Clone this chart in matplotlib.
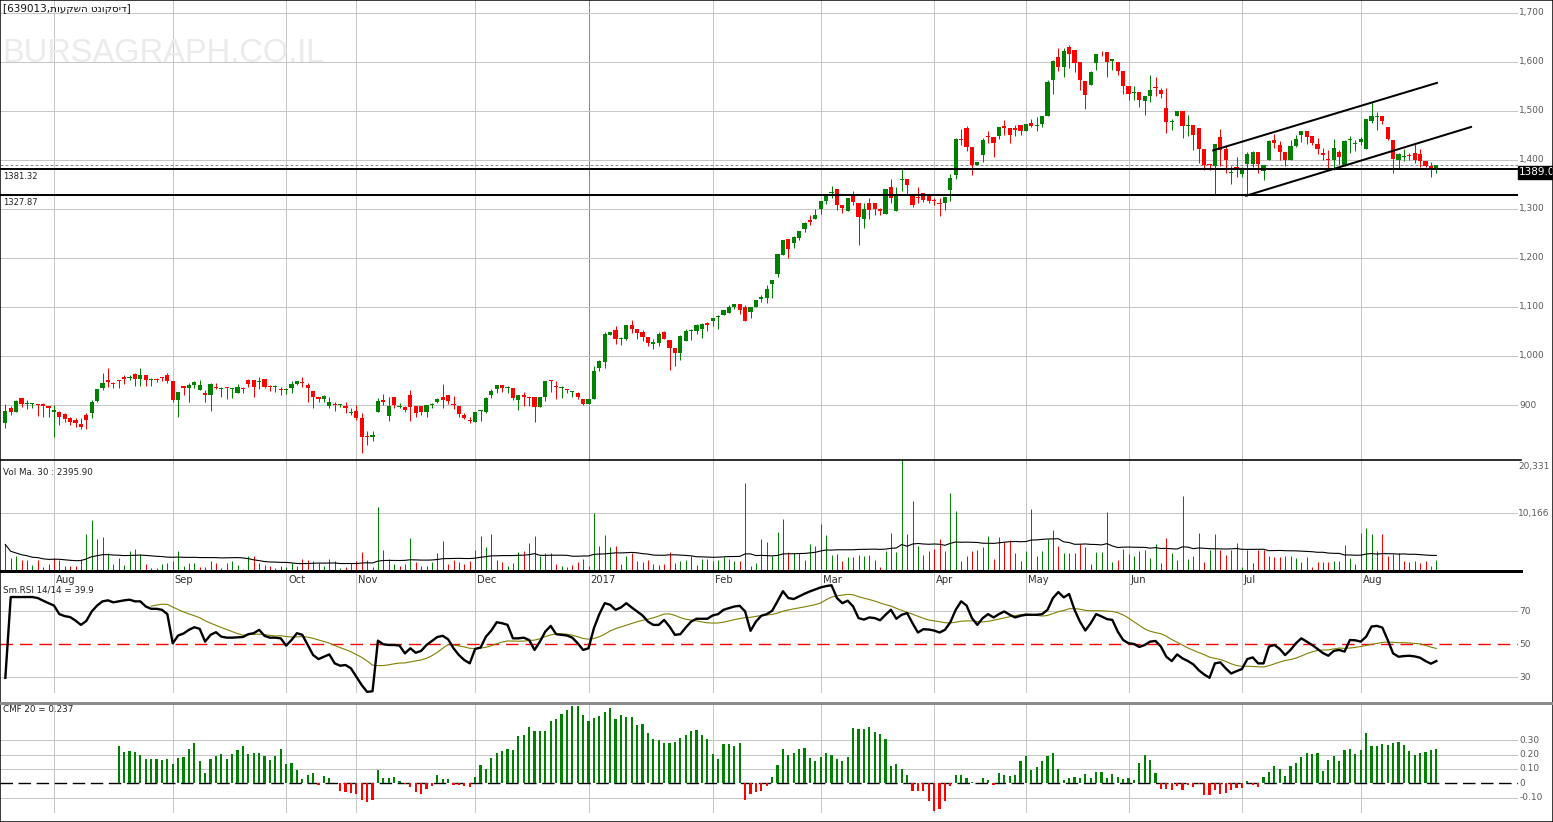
import matplotlib
matplotlib.use('Agg')
import matplotlib.pyplot as plt
import numpy as np
import pandas as pd
from matplotlib.lines import Line2D
from matplotlib.patches import Rectangle

# ---------------- data ----------------
title_code = '639013'
title_name = 'דיסקונט השקעות'

opens = [864,893,886,914,902,902,903,903,897,886, 885,881,873,869,862,880,883,909,934,951,
         944,951,958,955,963,954,961,952,953,957, 961,949,910,939,934,941,931,925,920,937,
         933,936,934,925,935,950,952,947,953,938, 938,933,930,934,943,946,941,929,917,912,
         898,902,899,898,885,888,873,837,834,886, 911,878,916,896,896,920,898,898,886,900,
         907,917,920,901,897,880,869,866,889,885, 920,932,941,935,935,910,920,916,916,895,
         917,951,938,936,932,927,924,913,903,913, 975,988,1043,1053,1034,1035,1063,1055,1048,1038,
         1025,1027,1048,1033,1017,1007,1031,1050,1051,1055, 1067,1071,1081,1084,1087,1099,1107,1099,1090,1099,
         1116,1119,1147,1167,1207,1238,1230,1241,1260,1278, 1280,1300,1316,1333,1341,1308,1296,1327,1312,1280,
         1312,1312,1300,1290,1345,1296,1359,1361,1327,1324, 1332,1327,1318,1312,1312,1339,1370,1443,1466,1427,
         1390,1410,1448,1447,1449,1469,1466,1465,1471,1460, 1475,1469,1473,1490,1563,1611,1590,1631,1624,1599,
         1561,1553,1597,1621,1620,1601,1599,1582,1550,1537, 1539,1521,1531,1548,1543,1507,1478,1490,1499,1469,
         1471,1465,1422,1392,1388,1446,1422,1373,1386,1371, 1392,1392,1417,1378,1401,1441,1431,1416,1401,1429,
         1452,1459,1449,1432,1415,1402,1400,1416,1389,1442, 1433,1437,1422,1480,1489,1490,1468,1441,1401,1406,
         1409,1414,1412,1398,1388,1384]
highs = [903,897,910,914,910,904,903,905,897,900, 888,883,875,873,873,883,910,933,965,975,
         946,951,961,961,965,975,961,956,955,958, 965,949,927,939,944,948,950,931,944,944,
         937,937,935,942,937,954,952,958,953,941, 941,937,934,948,948,958,944,929,917,920,
         917,907,903,907,893,900,883,846,847,915, 922,917,916,905,897,931,898,898,900,905,
         915,943,920,918,897,883,876,885,890,916, 932,941,941,939,935,920,927,916,916,916,
         949,952,949,939,932,929,927,913,913,980, 992,1048,1048,1061,1039,1063,1073,1055,1053,1038,
         1034,1048,1051,1033,1017,1043,1056,1056,1065,1067, 1070,1078,1084,1094,1104,1107,1107,1104,1101,1114,
         1124,1145,1155,1208,1237,1238,1245,1255,1274,1288, 1300,1316,1327,1346,1341,1308,1323,1337,1312,1312,
         1322,1312,1303,1341,1362,1344,1381,1361,1327,1344, 1332,1327,1323,1323,1324,1371,1444,1463,1469,1427,
         1396,1444,1459,1447,1467,1482,1466,1471,1471,1473, 1484,1487,1490,1563,1604,1628,1628,1635,1624,1599,
         1561,1582,1616,1622,1620,1607,1599,1582,1550,1552, 1539,1531,1573,1569,1546,1546,1484,1499,1499,1492,
         1471,1465,1422,1392,1432,1463,1431,1388,1407,1386, 1417,1418,1417,1389,1441,1454,1439,1416,1441,1451,
         1459,1459,1449,1444,1424,1420,1443,1420,1441,1449, 1441,1446,1484,1518,1497,1490,1468,1441,1414,1423,
         1414,1434,1422,1398,1395,1389]
lows = [854,880,886,895,891,893,878,876,876,835, 859,865,860,856,852,852,873,907,931,937,
        934,934,943,951,939,939,939,939,946,948, 945,907,876,920,907,934,931,907,888,932,
        917,912,914,924,925,936,917,932,934,929, 927,920,922,925,941,937,907,893,907,907,
        893,888,895,883,880,869,803,818,827,886, 900,868,893,893,886,868,876,880,876,893,
        905,893,902,891,876,871,863,866,868,883, 914,925,927,925,910,890,897,897,866,895,
        909,927,912,914,924,916,912,900,903,913, 970,975,1043,1024,1022,1033,1046,1035,1031,1021,
        1014,1021,1035,971,980,992,1031,1033,1044,1037, 1051,1061,1055,1084,1087,1095,1085,1072,1078,1099,
        1111,1109,1119,1162,1207,1201,1221,1237,1254,1267, 1280,1290,1310,1322,1298,1292,1296,1308,1227,1262,
        1280,1288,1288,1290,1312,1296,1337,1330,1305,1312, 1315,1312,1308,1286,1298,1317,1361,1431,1419,1369,
        1389,1395,1434,1407,1443,1451,1434,1448,1452,1460, 1468,1459,1468,1490,1535,1582,1570,1588,1580,1543,
        1504,1553,1584,1612,1569,1584,1573,1535,1522,1522, 1509,1492,1519,1531,1526,1456,1461,1490,1444,1448,
        1420,1393,1380,1380,1330,1388,1373,1350,1366,1366, 1327,1386,1373,1359,1400,1424,1400,1388,1401,1426,
        1437,1433,1431,1412,1400,1379,1379,1390,1388,1414, 1418,1431,1422,1475,1461,1473,1441,1373,1381,1397,
        1400,1393,1386,1386,1366,1374]
closes = [888,886,908,903,904,904,901,897,893,890, 876,872,866,864,856,869,907,932,944,946,
          943,950,954,956,954,961,952,953,952,956, 949,910,927,934,941,946,941,920,942,934,
          935,934,935,936,934,942,937,948,937,936, 939,932,933,942,948,945,934,917,912,918,
          907,901,902,893,886,873,835,834,839,908, 907,898,899,897,889,895,883,886,900,903,
          912,910,909,900,881,874,868,885,890,914, 929,941,935,936,914,920,916,915,895,916,
          949,950,936,937,931,928,917,903,913,969, 990,1045,1048,1035,1037,1063,1055,1046,1039,1027,
          1029,1045,1035,1017,1007,1041,1051,1053,1063,1065, 1064,1078,1082,1094,1099,1107,1094,1072,1099,1114,
          1121,1137,1155,1208,1237,1219,1242,1255,1272,1274, 1288,1316,1327,1334,1308,1303,1323,1315,1284,1301,
          1297,1301,1296,1341,1323,1327,1360,1348,1308,1323, 1318,1317,1316,1311,1324,1363,1443,1442,1427,1390,
          1396,1441,1447,1435,1467,1466,1452,1461,1460,1473, 1470,1471,1490,1560,1602,1590,1622,1616,1597,1563,
          1533,1580,1616,1620,1599,1606,1582,1550,1535,1538, 1522,1531,1543,1547,1534,1477,1479,1499,1469,1470,
          1451,1422,1390,1391,1432,1420,1400,1376,1383,1383, 1412,1417,1391,1389,1439,1435,1416,1400,1429,1443,
          1459,1446,1434,1422,1411,1401,1424,1407,1439,1443, 1434,1443,1484,1490,1490,1480,1443,1403,1412,1407,
          1408,1400,1398,1388,1383,1389]
volumes = [4575,2135,2440,1830,1830,915,1830,488,1100,2200, 1830,730,730,730,1950,6400,8970,5490,5980,3050,
           1100,2135,915,3480,3780,2930,1100,305,305,1100, 1340,1525,3355,730,1340,1340,488,488,1650,1340,
           305,1340,1650,915,183,2440,2560,1340,915,730, 427,730,488,1220,730,2013,1830,1650,1220,730,
           2013,1650,427,610,1220,1525,3170,1830,610,11285, 3540,2013,1100,790,1100,5670,1400,730,730,1400,
           3050,5120,1100,1830,1400,1100,1650,3660,6100,4090, 6400,1830,1400,730,1220,3230,3480,4760,6040,2440,
           3050,2990,1100,730,490,915,1400,2013,730,10250, 4390,6220,4090,4270,1100,2440,3050,1650,1400,1830,
           1100,915,1100,3230,1340,1650,1830,2560,915,2013, 2013,1650,1830,2260,2013,1525,1650,15555,730,1340,
           5490,5000,2440,6830,9150,3230,3050,3050,1830,4575, 4390,8235,6220,2745,2930,1650,2320,2260,2745,2560,
           2745,1830,610,3480,6590,3170,20331,6400,12440,4390, 2745,3480,3840,5490,3480,13725,10490,1650,2440,3480,
           3660,4090,6100,2013,5920,5000,5310,3050,1650,3480, 10860,2560,3355,5610,7140,4390,2990,2990,2990,4700,
           4210,1100,3230,3230,10370,1400,1830,3840,2870,2560, 3355,3540,2135,4575,1340,5800,3050,1830,13240,1950,
           2440,6590,1400,3660,6400,3660,2745,3660,4760,600, 3660,1220,3660,3660,2440,2300,2300,2440,2440,2135,
           1500,2260,600,1500,1500,1500,1650,1650,4450,2135, 1040,6710,7500,6400,3355,6400,2440,2930,3050,1650,
           1500,1650,1340,1650,730,1830]
rsi = [29.8,78.5,78.5,78.5,78.5,78.5,77.9,76.3,74.8,73.4, 68.2,67.0,66.4,64.3,61.7,64.1,69.8,73.4,75.9,76.5,
       75.3,75.9,76.5,76.9,75.9,75.9,72.8,71.4,71.4,70.8, 68.2,50.6,55.3,56.5,58.7,60.3,59.3,51.6,55.7,57.3,
       54.6,54.0,54.0,54.2,54.4,56.1,56.7,58.7,55.1,54.0, 54.0,53.6,49.2,52.6,56.7,55.7,49.6,43.5,41.1,42.5,
       43.9,38.5,37.1,37.5,35.5,30.4,25.4,21.3,21.7,52.2, 50.0,49.6,49.6,49.2,44.5,47.6,44.9,46.0,49.6,52.0,
       54.4,55.1,53.0,47.6,43.5,40.5,38.5,47.2,48.0,54.6, 58.3,63.3,62.7,61.7,53.6,53.6,54.0,52.6,46.6,51.6,
       57.7,61.1,56.1,55.7,55.3,54.0,50.6,46.6,47.6,59.7, 68.2,74.8,73.8,70.8,72.2,74.8,72.2,69.8,67.4,63.7,
       61.7,61.7,64.7,60.7,55.7,56.1,60.1,63.7,65.4,65.4, 65.4,67.4,68.2,70.8,71.8,72.8,73.2,69.8,58.1,63.7,
       67.2,68.2,70.2,76.0,82.0,77.9,77.3,78.9,80.5,81.9, 83.1,84.3,85.1,85.6,77.9,74.8,76.3,72.8,65.8,64.9,
       66.2,65.8,64.5,67.8,70.8,65.4,67.8,68.8,62.7,57.1, 59.1,58.9,58.3,57.1,58.7,63.3,70.8,75.9,73.4,65.8,
       61.7,65.8,68.2,66.2,68.2,69.8,67.8,66.2,67.2,67.8, 67.8,67.8,68.2,70.8,77.9,81.5,78.3,80.3,70.8,63.7,
       58.3,62.7,68.2,66.8,65.2,64.7,57.7,52.6,50.6,50.2, 48.4,49.6,51.6,52.0,48.6,42.5,39.9,43.9,41.5,39.9,
       37.9,34.4,31.8,29.8,38.5,39.1,35.5,32.4,33.8,35.1, 41.1,42.1,38.5,38.5,48.6,49.6,47.2,43.5,46.6,50.6,
       53.6,51.6,49.6,47.2,44.7,43.1,46.0,46.6,45.6,52.6, 52.4,51.6,54.6,60.7,61.1,60.1,52.6,44.5,42.5,42.9,
       43.1,42.7,41.9,39.9,38.3,39.9]
cmf_start = 21
cmf = [0.257,0.218,0.223,0.218,0.195,0.172,0.172,0.168,0.161,0.168,
       0.133,0.179,0.184,0.237,0.283,0.154,0.074,0.172,0.189,0.202,
       0.168,0.202,0.234,0.257,0.207,0.211,0.211,0.189,0.161,0.191,
       0.241,0.133,0.143,0.092,0.028,0.057,0.074,-0.011,0.051,0.034,
       0.003,-0.057,-0.064,-0.069,-0.076,-0.120,-0.133,-0.115,0.092,0.039,
       0.034,0.041,0.016,-0.005,-0.023,-0.062,-0.074,-0.041,-0.016,0.057,
       0.028,0.028,-0.011,-0.011,-0.018,-0.023,0.046,0.131,0.097,0.177,
       0.211,0.223,0.237,0.234,0.333,0.338,0.395,0.363,0.368,0.368,
       0.432,0.448,0.483,0.510,0.536,0.540,0.476,0.437,0.455,0.471,
       0.499,0.526,0.448,0.476,0.464,0.460,0.407,0.414,0.352,0.306,
       0.299,0.283,0.283,0.287,0.315,0.338,0.368,0.372,0.338,0.306,
       0.202,0.168,0.271,0.276,0.257,0.283,-0.120,-0.076,-0.064,-0.057,
       -0.018,0.046,0.126,
       0.237,0.200,0.211,0.241,0.246,0.179,0.154,0.184,0.214,0.200,
       0.172,0.154,0.184,0.386,0.379,0.379,0.391,0.361,0.345,0.310,
       0.120,0.138,0.099,0.057,-0.057,-0.051,-0.051,-0.126,-0.195,-0.177,
       -0.122,-0.018,0.057,0.057,0.034,0.011,0.003,0.034,0.023,-0.011,
       0.069,0.057,0.053,0.057,0.154,0.189,0.092,0.115,0.154,0.189,
       0.211,0.103,0.023,0.039,0.046,0.034,0.064,0.034,0.080,0.080,
       0.034,0.062,0.046,0.030,0.034,0.023,0.143,0.195,0.161,0.074,
       -0.041,-0.041,-0.046,-0.018,-0.046,-0.011,-0.023,-0.003,-0.085,-0.080,
       -0.046,-0.076,-0.069,-0.046,-0.034,-0.034,0.016,-0.011,-0.023,0.046,
       0.080,0.120,0.103,0.053,0.120,0.145,0.184,0.211,0.207,0.211,
       0.085,0.161,0.189,0.154,0.234,0.241,0.202,0.230,0.349,0.257,
       0.257,0.276,0.269,0.283,0.287,0.264,0.223,0.200,0.211,0.218,
       0.230,0.237]
month_labels = ['Aug','Sep','Oct','Nov','Dec','2017','Feb','Mar','Apr','May','Jun','Jul','Aug']
month_pos = [9, 31, 52, 65, 87, 108, 131, 151, 172, 189, 208, 229, 251]
levels = [1381.32, 1327.87]
trend_upper = ([223.5, 265.3], [1419, 1558])
trend_lower = ([229.6, 271.6], [1326.5, 1468])
price_ticks = [900, 1000, 1100, 1200, 1300, 1400, 1500, 1600, 1700]
vol_ticks = [10166, 20331]
rsi_ticks = [30, 50, 70]
cmf_ticks = [-0.10, 0, 0.10, 0.20, 0.30]
vol_ma_label = 'Vol Ma. 30 : 2395.90'

n = len(closes)
assert len(opens) == n and len(highs) == n and len(lows) == n, (len(opens), len(highs), len(lows), n)
assert len(volumes) == n and len(rsi) == n, (len(volumes), len(rsi), n)
assert len(cmf) == n - cmf_start, (len(cmf), n - cmf_start)

# ---------------- figure ----------------
W, H = 1553, 822
fig = plt.figure(figsize=(W / 100, H / 100), dpi=100)
fig.patch.set_facecolor('white')
X0, DX, RIGHT = 5.33, 5.40, 1518   # pixel layout of the candle axis

def fx(p):
    return p / W

def fy(p):
    return 1 - p / H

def add_ax(top, bottom):
    ax = fig.add_axes([0, fy(bottom), fx(RIGHT), (bottom - top) / H])
    ax.set_xlim(-X0 / DX, (RIGHT - X0) / DX)
    ax.set_xticks([]); ax.set_yticks([])
    for s in ax.spines.values():
        s.set_visible(False)
    ax.patch.set_alpha(0)
    return ax

ax_p = add_ax(0, 460)
ax_v = add_ax(460, 571)
ax_r = add_ax(571, 703)
ax_c = add_ax(703, 821)

ax_p.set_ylim(787.76, 1726.5)
ax_v.set_ylim(-179, 19723)
ax_r.set_ylim(14.6, 94.2)
ax_c.set_ylim(-0.2631, 0.5604)

GRID = '#c6c6c6'
GREEN = '#008000'
RED = '#ff0000'
LBL = '#5a5a5a'
PX = 0.72  # one pixel in points
LEFT_TXT = 3 / RIGHT

x = np.arange(n)
o = np.array(opens, float); h = np.array(highs, float)
l = np.array(lows, float); c = np.array(closes, float)
cols = np.where(c >= o, GREEN, RED)
prev = np.r_[c[0], c[:-1]]
vcols = np.where(c >= prev, GREEN, RED)

# gridlines
for lab, m in zip(month_labels, month_pos):
    ax_p.axvline(m, color='#8a8a8a' if lab == '2017' else GRID, lw=PX, zorder=0)
    ax_v.axvline(m, color=GRID, lw=PX, zorder=0)
    ax_r.axvline(m, ymin=0.083, ymax=1, color=GRID, lw=PX, zorder=0)
    ax_c.axvline(m, ymin=0.076, ymax=1, color=GRID, lw=PX, zorder=0)
for v in price_ticks:
    ax_p.axhline(v, color=GRID, lw=PX, zorder=0)
ax_v.axhline(vol_ticks[0], color=GRID, lw=PX, zorder=0)
for v in rsi_ticks:
    if v != 50:
        ax_r.axhline(v, color=GRID, lw=PX, zorder=0)
for v in cmf_ticks:
    if v != 0:
        ax_c.axhline(v, color=GRID, lw=PX, zorder=0)

# watermark
ax_p.text(fx(2), fy(62), 'BURSAGRAPH.CO.IL', transform=fig.transFigure, fontsize=23.5,
          family='Liberation Sans', color='#ebebeb', va='baseline', ha='left', zorder=0.5)

# candles
ax_p.vlines(x, l, h, colors=cols, lw=1.0 * PX, zorder=2)
body = np.abs(c - o)
bh = np.maximum(body, 1.8)
bb = np.minimum(o, c) - (bh - body) / 2
ax_p.bar(x, bh, bottom=bb, width=0.8, color=cols, linewidth=0, zorder=3)

# support / resistance and channel
ty = ax_p.get_yaxis_transform()
for lev in levels:
    ax_p.axhline(lev, color='black', lw=2 * PX, zorder=4)
    ax_p.annotate(f'{lev:.2f}', xy=(LEFT_TXT, lev), xycoords=ty, xytext=(0, -2), textcoords='offset points',
                  fontsize=6, va='top', ha='left', color='#222222')
ax_p.axhline(c[-1], color='#8c8c8c', lw=1 * PX, dashes=(3, 2), zorder=1)
ax_p.plot(*trend_upper, color='black', lw=2 * PX, zorder=5, solid_capstyle='butt')
ax_p.plot(*trend_lower, color='black', lw=2 * PX, zorder=5, solid_capstyle='butt')

# right price labels
for v in price_ticks:
    ax_p.text(1.0008, v, f'{v:,}', transform=ty, fontsize=6.5, color=LBL, va='center', ha='left', clip_on=False)
ax_p.annotate(f'{c[-1]:.1f}', xy=(1.0008, c[-1]), xycoords=ty, xytext=(0, -1.5), textcoords='offset points',
              fontsize=7.5, color='white', va='top', ha='left', annotation_clip=False, zorder=10,
              bbox=dict(boxstyle='square,pad=0.12', fc='black', ec='black'))

# header (Hebrew part given in visual order, since matplotlib lays text out left to right)
fig.text(fx(3), fy(9), '[' + title_code + ',' + title_name[::-1] + ']', fontsize=7.5,
         family='DejaVu Sans', va='center', ha='left', color='#111111')

# volume
vol = np.array(volumes, float)
ax_v.vlines(x, 0, vol, colors=vcols, lw=1.0 * PX, zorder=2)
vma = pd.Series(vol).rolling(30, min_periods=1).mean()
ax_v.plot(x, vma, color='black', lw=0.8, zorder=3)
tv = ax_v.get_yaxis_transform()
ax_v.text(1.0, vol_ticks[0], f'{vol_ticks[0]:,}', transform=tv, fontsize=6.5, color=LBL, va='center', ha='left', clip_on=False)
ax_v.text(1.0, 0.985, f'{vol_ticks[1]:,}', transform=ax_v.transAxes, fontsize=6.5, color=LBL, va='top', ha='left', clip_on=False)
ax_v.text(LEFT_TXT, 0.883, vol_ma_label, transform=ax_v.transAxes, fontsize=6.3,
          va='center', ha='left', color='#222222')

# RSI
rs = pd.Series(rsi, dtype=float)
rma = rs.rolling(14).mean()
ax_r.axhline(50, color='red', lw=1.0, dashes=(9, 5), zorder=1)
ax_r.plot(x[27:], rma[27:], color='#808000', lw=0.8, zorder=2)
ax_r.plot(x, rs, color='black', lw=1.7, zorder=3)
tr = ax_r.get_yaxis_transform()
for v in sorted(rsi_ticks, reverse=True):
    ax_r.text(1.0008, v, f'{v}', transform=tr, fontsize=6.5, color=LBL, va='center', ha='left', clip_on=False)
ax_r.text(LEFT_TXT, 0.856, f'Sm.RSI 14/14 = {rsi[-1]:.1f}', transform=ax_r.transAxes, fontsize=6.3,
          va='center', ha='left', color='#222222')
tm = ax_r.get_xaxis_transform()
for m, lab in zip(month_pos, month_labels):
    ax_r.text(m + 0.35, 0.932, lab, transform=tm, fontsize=7.2, va='center', ha='left', color='#333333')

# CMF
cv = np.array(cmf, float)
cx = np.arange(cmf_start, n)
ax_c.axhline(0, color='black', lw=1.0, dashes=(9, 4), zorder=1)
ax_c.bar(cx, cv, width=0.4, color=np.where(cv >= 0, GREEN, RED), linewidth=0, zorder=2)
tc = ax_c.get_yaxis_transform()
for v in cmf_ticks:
    ax_c.text(1.001, v, '0' if v == 0 else f'{v:.2f}', transform=tc, fontsize=6.5, color=LBL,
              va='center', ha='left', clip_on=False)
ax_c.text(LEFT_TXT, 0.949, f'CMF 20 = {cmf[-1]:.3f}', transform=ax_c.transAxes, fontsize=6.3,
          va='center', ha='left', color='#222222')

# pane separators and border
fig.add_artist(Line2D([0, fx(1521)], [fy(460), fy(460)], color='black', lw=1.6 * PX))
fig.add_artist(Line2D([0, fx(1521)], [fy(571), fy(571)], color='black', lw=3 * PX))
fig.add_artist(Line2D([0, 1], [fy(703), fy(703)], color='#8c8c8c', lw=3 * PX))
fig.add_artist(Rectangle((0, 0), 1, 1, transform=fig.transFigure, fill=False, ec='black', lw=1.5 * PX))

fig.savefig('out.png', dpi=100, facecolor='white')
